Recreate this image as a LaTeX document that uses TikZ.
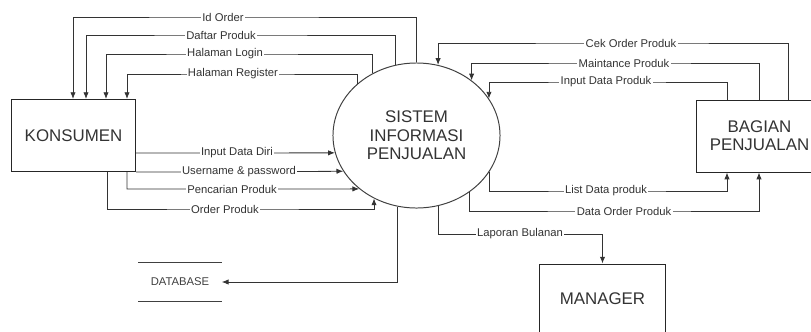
\documentclass[tikz,border=0pt]{standalone}
\usepackage{fontspec}
\setmainfont{Liberation Sans}
\usetikzlibrary{arrows.meta,shapes.geometric}

\tikzset{
    entity/.style={draw=black!85, line width=0.7pt, rectangle, minimum width=3.1cm, minimum height=1.8cm,
        font=\fontsize{12}{13}\selectfont, align=center, text=black!80},
    process/.style={draw=black!75, line width=0.7pt, ellipse, minimum width=4.175cm, minimum height=3.625cm,
        font=\fontsize{12}{13.2}\selectfont, align=center, text=black!80},
    store/.style={minimum width=2.075cm, minimum height=0.95cm,
        font=\fontsize{8}{9}\selectfont, text=black!75},
    flow/.style={draw=black!80, line width=0.6pt, -{Latex[length=4.8pt,width=3.8pt]}},
    lbl/.style={fill=white, inner sep=1pt, font=\fontsize{8}{9}\selectfont, text=black!80}
}

\begin{document}
\begin{tikzpicture}[x=0.025cm, y=-0.025cm]
        \useasboundingbox (0,0) rectangle (811,331);
        \node[entity] (konsumen) at (73.5,135.5) {KONSUMEN};
        \node[process] (sistem) at (416.5,135.5) {SISTEM\\INFORMASI\\PENJUALAN};
        \node[entity, minimum width=3.125cm] (bagian) at (759.5,136) {BAGIAN\\PENJUALAN};
        \node[entity, minimum width=3.125cm, minimum height=1.75cm] (manager) at (602.5,299) {MANAGER};
        \node[store] (database) at (180,282) {DATABASE};
        \draw[black!75, line width=0.6pt] (database.north west) -- (database.north east);
        \draw[black!75, line width=0.6pt] (database.south west) -- (database.south east);
        % sistem -> konsumen
        \draw[flow] (sistem.north) |- (223,17) node[lbl] {Id Order} -| (konsumen.north -| 73,0);
        \draw[flow] (sistem.107) |- (221,35) node[lbl] {Daftar Produk} -| (konsumen.north -| 86,0);
        \draw[flow] (sistem.125) |- (225,54) node[lbl] {Halaman Login} -| (konsumen.north -| 106,0);
        \draw[flow] (sistem.139.5) |- (233,74) node[lbl] {Halaman Register} -| (konsumen.north -| 127,0);
        % konsumen -> sistem
        \draw[flow] (konsumen.east |- 0,153) -- (237,153) node[lbl] {Input Data Diri} -- (sistem.192.2);
        \draw[flow] (konsumen.south east) -- (239,172) node[lbl] {Username \& password} -- (sistem.206.8);
        \draw[flow] (konsumen.south -| 127,0) |- (232,189) node[lbl] {Pencarian Produk} -- (sistem.223.5);
        \draw[flow] (konsumen.south -| 107,0) |- (225,209) node[lbl] {Order Produk} -| (sistem.236.6);
        % bagian penjualan <-> sistem
        \draw[flow] (bagian.north -| 788,0) |- (631,43) node[lbl] {Cek Order Produk} -| (sistem.73);
        \draw[flow] (bagian.north -| 759,0) |- (624,63) node[lbl] {Maintance Produk} -| (sistem.45.2);
        \draw[flow] (bagian.north -| 727,0) |- (606,82) node[lbl] {Input Data Produk} -| (sistem.27.7);
        \draw[flow] (sistem.-27.7) |- (606,191) node[lbl] {List Data produk} -| (bagian.south -| 727,0);
        \draw[flow] (sistem.-47) |- (624,211) node[lbl] {Data Order Produk} -| (bagian.south -| 759,0);
        % manager, database
        \draw[flow] (sistem.-73.3) |- (520,234) node[lbl] {Laporan Bulanan} -| (manager.north);
        \draw[flow] (sistem.-105.9) |- (database.east);
    \end{tikzpicture}
\end{document}
